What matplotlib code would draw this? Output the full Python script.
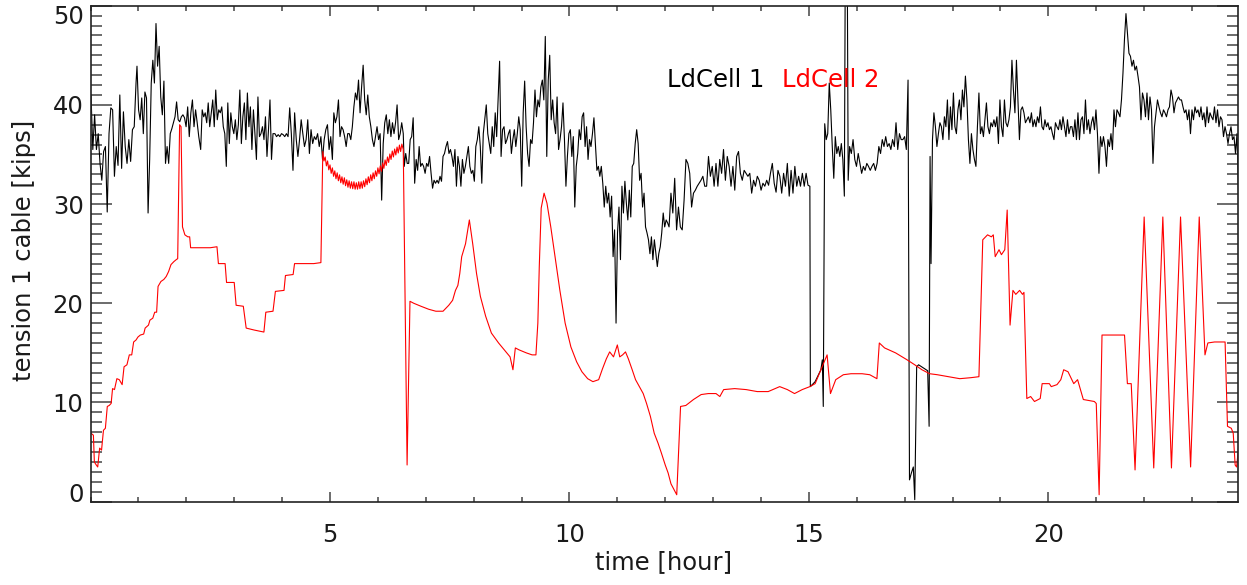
import numpy as np
import matplotlib
matplotlib.use('Agg')
import matplotlib.pyplot as plt
from matplotlib.ticker import MultipleLocator, FixedLocator
from matplotlib.transforms import ScaledTranslation

# ---- LdCell 1 (black) in chunks: (t_start, t_end, values) ----
black_k1 = [41.0, 35.5, 39.0, 35.5, 37.1, 34.1, 32.4, 35.3, 35.8, 29.2, 37.1, 39.7, 39.5,
            32.8, 35.8, 33.9, 41.0, 33.6, 39.3, 35.8, 34.1, 36.5, 34.3, 37.5, 37.8, 42.2]
black_k2 = [43.9, 39.5, 38.5, 40.7, 37.1, 41.3, 40.7, 29.1, 34.5, 42.2, 44.5, 42.2, 48.2,
            43.9, 45.9, 40.8, 39.0, 42.4, 34.1, 35.8, 34.1, 37.1, 37.6, 38.2, 38.8, 40.3,
            38.5, 38.3, 38.8, 39.0, 38.7, 37.8, 39.8, 36.8, 39.2, 40.5, 37.8, 39.5, 38.2, 36.8]
black_k3 = [35.5, 39.5, 38.8, 39.2, 38.2, 40.2, 37.8, 39.2, 40.5, 37.8, 41.5, 38.5, 39.5,
            39.2, 39.8, 37.8, 37.1, 33.8, 40.2, 36.1, 39.2, 37.8, 37.1, 38.5, 36.5, 38.0,
            41.5, 36.1, 38.8, 40.2, 36.5, 41.2, 37.8, 39.8, 35.5, 39.5, 37.1, 34.5,
            40.8, 36.8, 37.1, 37.8, 36.5, 38.8, 34.8, 37.5, 40.5, 34.5, 37.1]
black_k4 = [37.1, 36.8, 37.0, 36.8, 37.1, 37.0, 36.8, 37.1, 36.8, 39.7, 37.1, 33.4, 39.2,
            36.5, 34.8, 36.5, 38.5, 37.1, 35.8, 36.5, 38.5, 35.1, 37.5, 36.1, 36.8, 36.5,
            37.1, 35.8, 36.8, 34.5, 36.5, 37.5, 38.0, 35.5, 36.8, 34.5]
black_k5 = [39.2, 38.2, 38.8, 40.5, 36.8, 37.8, 37.5, 36.8, 35.8, 37.1, 37.1, 36.5, 37.8,
            39.8, 41.2, 40.5, 42.5, 39.2, 41.8, 44.0, 40.5, 39.0, 41.0, 38.8, 37.8, 36.5,
            35.8, 36.8, 37.8, 36.5, 37.1, 30.4, 36.1, 38.2, 39.0, 37.1, 38.5, 36.8, 38.2,
            37.1, 38.2, 40.0, 36.5, 37.1, 38.2, 37.1]
black_k6 = [33.8, 35.1, 34.1, 34.1, 36.5, 36.8, 38.7, 32.1, 34.5, 33.4, 35.8,
            33.8, 34.1, 33.8, 33.1, 34.1, 33.8, 34.8, 33.1, 31.6, 32.4,
            32.1, 32.4, 32.1, 32.8, 32.3, 34.8, 35.1, 35.8, 36.3, 35.1,
            35.5, 34.8, 33.8, 35.5, 31.8, 34.8, 33.8, 31.8, 34.5, 33.1,
            33.8, 34.8, 35.8, 33.8, 33.1, 33.4, 32.3, 35.8, 36.5, 37.8,
            35.8, 32.1, 37.1, 38.5, 40.0, 37.1, 36.1, 35.1, 37.8, 35.8, 39.2]
black_k7 = [36.8, 40.7, 44.4, 34.8, 37.5, 37.8, 36.1, 36.5, 37.1, 37.5, 35.1, 36.5, 37.5,
            35.8, 37.1, 38.8, 37.5, 31.8, 39.2, 42.4, 37.8, 35.1, 33.8, 36.5, 36.1, 38.2,
            41.5, 38.8, 40.5, 39.8, 41.8, 42.5, 40.5, 46.9, 34.8,
            42.5, 45.0, 38.5, 40.5, 38.2, 37.1, 40.8, 35.5, 36.5, 37.8, 40.2, 36.5, 31.8,
            34.8, 37.1, 37.5, 34.8, 36.8, 29.7, 33.8, 35.1, 37.5, 36.5, 38.8, 39.2, 35.8,
            37.8, 34.5, 36.5, 35.8, 37.1, 38.7, 36.1, 33.4, 33.8, 32.8, 33.8, 32.1, 29.7,
            31.8, 30.1, 31.1, 28.7, 30.8, 24.7, 27.4, 18.0, 27.1, 29.7, 24.4, 31.8, 29.1,
            32.3, 30.1, 28.4, 31.4, 28.7, 33.8, 34.1, 36.1, 37.5, 36.1, 32.4, 33.1, 29.7,
            31.1, 27.7, 27.1, 26.4, 25.0, 26.7, 24.4, 26.4, 25.0, 23.7, 25.0, 25.7, 27.1,
            29.1, 27.7, 28.4, 28.1]
black_k8 = [27.7, 31.1, 29.1, 32.6, 27.4, 29.7, 27.7, 27.4, 30.4, 34.5,
            34.1, 33.1, 29.7, 31.1, 31.4, 31.8, 32.1, 32.4, 32.8, 31.8,
            31.8, 34.8, 32.8, 33.8, 31.8, 34.1, 31.8, 34.5, 33.1, 35.5,
            32.4, 34.8, 33.8, 31.8, 33.8, 31.4, 34.8, 35.3, 33.1, 32.4,
            33.4, 33.1, 32.8, 33.1, 31.1, 32.4, 31.8, 32.8, 32.4, 31.4,
            32.1, 31.8, 32.4, 31.9, 33.1, 34.1, 32.1, 31.2, 33.4, 32.8,
            31.1, 33.1, 31.8, 34.1, 30.8, 33.4, 31.1, 33.8, 31.8, 32.8,
            31.8, 33.1, 31.8, 33.1, 31.9, 31.8]
black_k10 = [38.1, 36.5, 37.1, 42.2, 39.5, 35.8, 32.6, 36.8, 35.1, 35.8, 34.8, 36.1, 34.5, 30.8]
black_k12 = [35.8, 35.1, 36.5, 34.5, 33.8, 35.1, 34.1, 33.1, 33.8, 33.4, 34.1, 33.8, 33.4,
             33.8, 34.1, 33.4, 34.1, 35.8, 35.1, 36.5, 35.8, 36.8, 35.8, 36.1, 35.5, 36.5,
             35.8, 38.2, 35.5, 37.1, 36.5, 36.5, 36.8, 35.5, 42.5]
black_k14 = [39.2, 37.8, 35.8, 37.1, 38.2, 37.8, 36.5, 38.8, 37.8, 40.5,
             36.5, 39.8, 37.5, 41.2, 37.8, 37.1, 39.5, 40.5, 38.5, 41.5,
             39.8, 42.9, 40.5, 36.5, 34.1, 37.1, 35.5, 34.5, 33.8, 37.8,
             41.2, 37.1, 37.8, 36.8, 38.5, 40.2, 37.8, 37.1, 38.2, 37.8,
             38.5, 37.8, 38.8, 36.1, 40.5, 37.8, 36.8, 40.5, 38.2, 37.8,
             38.5, 39.8, 44.5, 41.5, 39.2, 44.5, 40.5, 36.5, 39.5, 39.8,
             39.2, 38.2, 38.5, 38.8, 38.2, 39.2, 37.8, 38.5, 37.8, 38.8,
             38.2, 39.8, 37.8, 37.5, 38.5, 37.8, 38.2, 37.5, 37.8, 37.1,
             36.5, 38.2, 37.8, 37.5, 38.5, 37.5, 38.8, 37.8, 36.8, 38.5,
             37.1, 37.8, 37.8, 36.8, 38.5, 36.5, 39.2, 36.5, 38.5, 38.8,
             37.1, 40.5, 37.5, 38.5, 37.1, 38.2, 38.8, 37.5, 39.5, 37.1,
             33.1, 36.8, 35.8, 36.8, 35.8, 33.8, 36.5, 35.8, 37.1, 35.5,
             39.5, 37.8, 39.5, 39.2, 38.8, 40.5, 43.2, 46.6, 49.2, 47.2,
             45.2, 44.9, 43.9, 44.5, 43.5, 43.9, 42.9, 41.8, 38.5, 41.2,
             40.5, 38.8, 41.2, 38.5, 40.8, 39.5, 34.1, 37.8, 39.2, 40.5,
             39.8, 39.2, 38.8, 39.5, 39.2, 38.8, 39.5, 39.8, 41.5, 40.8,
             39.2, 40.2, 40.5, 40.8, 40.5, 40.5, 39.8, 39.2, 39.5, 38.5,
             39.5, 37.1, 39.5, 38.5, 39.8, 39.2, 39.5, 38.8, 39.8, 38.5,
             39.2, 37.8, 39.8, 38.2, 39.2, 38.8, 38.5, 39.8, 38.2, 39.5,
             37.8, 38.8, 38.5, 36.8, 37.8, 37.1, 36.1, 37.1, 37.8, 36.5,
             36.8, 35.1, 37.1, 31.4]

# sharp events in LdCell 1 (explicit times)
black_ev1_t = [15.03, 15.13, 15.25, 15.28, 15.30]
black_ev1_v = [11.6, 12.1, 13.3, 14.3, 9.6]
black_ev2_t = [15.76, 15.80, 15.82]
black_ev2_v = [55.0, 55.0, 32.4]
black_ev3_t = [17.10, 17.14, 17.18, 17.21, 17.25, 17.29, 17.48, 17.51, 17.53, 17.55, 17.58]
black_ev3_v = [2.2, 2.9, 3.5, 0.2, 13.6, 13.8, 13.2, 7.6, 34.8, 24.0, 36.5]

black_pieces = [
    (0.01, 0.95, black_k1), (0.97, 2.26, black_k2), (2.30, 3.81, black_k3),
    (3.85, 5.05, black_k4), (5.08, 6.53, black_k5), (6.55, 8.45, black_k6),
    (8.48, 12.05, black_k7), (12.08, 15.02, black_k8),
    (black_ev1_t, black_ev1_v), (15.33, 15.74, black_k10),
    (black_ev2_t, black_ev2_v), (15.85, 17.07, black_k12),
    (black_ev3_t, black_ev3_v), (17.61, 23.97, black_k14),
]

# ---- LdCell 2 (red) ----
red_a_t = [0.01, 0.06, 0.08, 0.12, 0.15, 0.19, 0.23, 0.27, 0.31, 0.35, 0.39, 0.43, 0.46,
           0.50, 0.55, 0.60, 0.66, 0.70, 0.76, 0.81, 0.86, 0.90, 0.95, 0.99, 1.04, 1.11,
           1.14, 1.21, 1.24, 1.30, 1.34, 1.38, 1.41, 1.47, 1.53, 1.58, 1.63, 1.68, 1.74,
           1.79, 1.82, 1.86, 1.89, 1.92, 1.97, 2.03, 2.07, 2.09, 2.26, 2.50, 2.64, 2.67,
           2.81, 2.84, 3.00, 3.04, 3.19, 3.25, 3.42, 3.62, 3.66, 3.81, 3.86, 4.04, 4.07,
           4.23, 4.26, 4.43, 4.66, 4.81]
red_a_v = [6.9, 6.7, 4.0, 3.7, 3.5, 5.4, 5.2, 7.2, 7.4, 9.6, 9.7, 9.9, 11.4,
           11.3, 12.4, 12.3, 11.8, 13.6, 13.8, 14.8, 14.8, 16.1, 16.3, 16.6, 16.8, 16.9,
           17.5, 17.8, 18.3, 18.5, 19.1, 19.1, 21.7, 22.2, 22.4, 22.7, 23.2, 23.9, 24.2,
           24.4, 24.5, 38.0, 37.8, 27.7, 26.9, 26.7, 26.7, 25.6, 25.6, 25.6, 25.7, 24.0,
           24.0, 22.1, 22.1, 19.8, 19.7, 17.5, 17.3, 17.1, 19.1, 19.2, 21.2, 21.3, 22.8,
           22.9, 24.0, 24.0, 24.0, 24.1]
# fast oscillation between 4.85 h and 6.50 h (evenly sampled)
red_saw_v = [35.3, 34.35, 34.75, 33.85, 34.35, 33.45, 33.95, 33.1, 33.65, 32.8,
             33.35, 32.55, 33.15, 32.35, 32.95, 32.15, 32.75, 32.0, 32.65, 31.85,
             32.45, 31.7, 32.35, 31.6, 32.25, 31.55, 32.25, 31.5, 32.15, 31.5,
             32.25, 31.55, 32.25, 31.6, 32.35, 31.75, 32.55, 31.95, 32.75, 32.15,
             32.95, 32.35, 33.15, 32.55, 33.35, 32.8, 33.65, 33.05, 33.85, 33.3,
             34.15, 33.6, 34.45, 33.9, 34.75, 34.2, 35.05, 34.5, 35.35, 34.75,
             35.55, 34.95, 35.75, 35.15, 35.95, 35.3, 36.05]
red_b_t = [6.53, 6.61, 6.67, 6.75, 6.90, 7.06, 7.21, 7.36, 7.48, 7.56, 7.62, 7.67, 7.71,
           7.75, 7.83, 7.91, 7.98, 8.06, 8.14, 8.25, 8.37, 8.52, 8.64, 8.76, 8.82, 8.87,
           8.95, 9.10, 9.22, 9.30, 9.34, 9.37, 9.41, 9.47, 9.53, 9.61, 9.70, 9.80, 9.91,
           10.03, 10.15, 10.26, 10.38, 10.49, 10.61, 10.69, 10.77, 10.84, 10.92, 11.00,
           11.05, 11.11, 11.17, 11.23, 11.31, 11.38, 11.46, 11.54, 11.61, 11.69, 11.77,
           11.85, 11.92, 12.00, 12.06]
red_b_v = [35.5, 3.7, 20.2, 20.0, 19.7, 19.4, 19.2, 19.2, 19.8, 20.3, 21.3, 21.8, 23.0,
           24.7, 26.0, 28.4, 26.0, 23.0, 20.7, 18.7, 17.0, 16.0, 15.3, 14.6, 13.3, 15.5,
           15.3, 15.0, 14.8, 14.8, 18.0, 23.7, 29.6, 31.1, 30.1, 27.7, 24.7, 21.3, 18.0,
           15.6, 14.1, 13.1, 12.4, 12.1, 12.3, 13.4, 14.4, 15.1, 14.6, 15.8,
           14.6, 14.8, 15.1, 14.4, 13.3, 12.3, 11.6, 10.9, 9.9, 8.6, 6.9,
           5.9, 4.9, 3.7, 2.9]
red_c_t = [12.12, 12.24, 12.32, 12.43, 12.59, 12.75, 12.90, 13.06, 13.14, 13.22, 13.45,
           13.69, 13.92, 14.15, 14.39, 14.55, 14.70, 14.86, 15.02, 15.13, 15.25, 15.38,
           15.45, 15.56, 15.72, 15.88, 16.11, 16.27, 16.42, 16.47, 16.58, 16.81, 17.05,
           17.21, 17.36, 17.52, 17.68, 17.91, 18.15, 18.38, 18.55, 18.63, 18.73, 18.81,
           18.85, 18.89, 18.97, 19.02, 19.09, 19.14, 19.20, 19.26, 19.32, 19.40, 19.46,
           19.49, 19.55, 19.63, 19.71, 19.83, 19.87, 20.02, 20.06, 20.18, 20.26, 20.32,
           20.41, 20.53, 20.61, 20.73, 20.96, 21.00, 21.06, 21.12, 21.28, 21.59, 21.65,
           21.73, 21.81, 22.00, 22.20, 22.39, 22.57, 22.76, 22.97, 23.15, 23.27, 23.33,
           23.47, 23.69, 23.74, 23.82, 23.86, 23.90, 23.93, 23.97]
red_c_v = [1.8, 0.7, 9.6, 9.7, 10.3, 10.8, 10.9, 10.9, 10.6, 11.3, 11.4,
           11.3, 11.1, 11.1, 11.6, 11.3, 10.9, 11.3, 11.6, 11.9, 13.3, 14.8,
           10.9, 12.3, 12.8, 12.9, 12.9, 12.8, 12.4, 16.0, 15.5, 15.0, 14.3,
           13.8, 13.3, 12.9, 12.8, 12.6, 12.4, 12.5, 12.6, 26.4, 26.9, 26.7,
           26.9, 24.7, 25.4, 24.9, 25.4, 29.4, 17.8, 21.3, 20.9, 21.3, 20.9,
           21.1, 10.4, 10.6, 10.1, 10.4, 11.9, 11.9, 11.6, 11.8, 12.3, 13.3,
           13.1, 11.9, 12.3, 10.3, 10.1, 9.9, 0.7, 16.8, 16.8, 16.8, 11.9,
           11.9, 3.2, 28.7, 3.4, 28.7, 3.4, 28.7, 3.5, 28.7, 14.8, 16.0,
           16.1, 16.1, 7.6, 7.4, 6.9, 3.7, 3.5, 5.4]

red_pieces = [
    (red_a_t, red_a_v), (4.85, 6.50, red_saw_v), (red_b_t, red_b_v), (red_c_t, red_c_v),
]

series_names = ['LdCell 1', 'LdCell 2']


def build(pieces):
    ts, vs = [], []
    for piece in pieces:
        if len(piece) == 3:
            t0, t1, vals = piece
            ts.append(np.linspace(t0, t1, len(vals)))
            vs.append(np.array(vals))
        else:
            ts.append(np.array(piece[0]))
            vs.append(np.array(piece[1]))
    return np.concatenate(ts), np.concatenate(vs)


if __name__ == '__main__':
    plt.rcParams['font.family'] = ['DejaVu Sans']
    fsize = 17.5
    tcol = '#1a1a1a'

    black_t, black_v = build(black_pieces)
    red_t, red_v = build(red_pieces)

    fig = plt.figure(figsize=(12.47, 5.85), dpi=100)
    ax = fig.add_axes([0.0726, 0.1424, 0.9202, 0.8479])

    ax.plot(black_t, black_v, color='black', lw=0.8)
    ax.plot(red_t, red_v, color='red', lw=0.8)

    ax.set_xlim(0, 23.96)
    ax.set_ylim(0, 50)
    ax.xaxis.set_major_locator(FixedLocator([5, 10, 15, 20]))
    ax.xaxis.set_minor_locator(MultipleLocator(1))
    ax.yaxis.set_major_locator(FixedLocator([0, 10, 20, 30, 40, 50]))
    ax.yaxis.set_minor_locator(MultipleLocator(1))

    ax.tick_params(which='both', direction='in', top=True, right=True,
                   width=1.1, color='#444444', labelsize=fsize, labelcolor=tcol)
    ax.tick_params(axis='x', which='major', length=7, pad=15)
    ax.tick_params(axis='x', which='minor', length=3.6)
    ax.tick_params(axis='y', which='major', length=15, pad=5)
    ax.tick_params(axis='y', which='minor', length=8)

    # end labels sit inside the axis range, as in the original
    yticks = ax.yaxis.get_major_ticks()
    lab0 = yticks[0].label1
    lab0.set_transform(lab0.get_transform() + ScaledTranslation(0, 0.09, fig.dpi_scale_trans))
    lab5 = yticks[-1].label1
    lab5.set_transform(lab5.get_transform() + ScaledTranslation(0, -0.09, fig.dpi_scale_trans))

    for sp in ax.spines.values():
        sp.set_linewidth(1.2)
        sp.set_color('#222222')

    fig.text(24 / 1247, 1 - 250 / 585, 'tension 1 cable [kips]', rotation=90,
             ha='center', va='center', fontsize=fsize, color=tcol)
    fig.text(664 / 1247, 1 - 562 / 585, 'time [hour]', ha='center', va='center',
             fontsize=fsize, color=tcol)

    ax.text(0.502, 0.837, series_names[0], transform=ax.transAxes, color='black',
            fontsize=fsize, va='baseline', ha='left')
    ax.text(0.6024, 0.837, series_names[1], transform=ax.transAxes, color='red',
            fontsize=fsize, va='baseline', ha='left')

    fig.savefig('out.png', dpi=100)
